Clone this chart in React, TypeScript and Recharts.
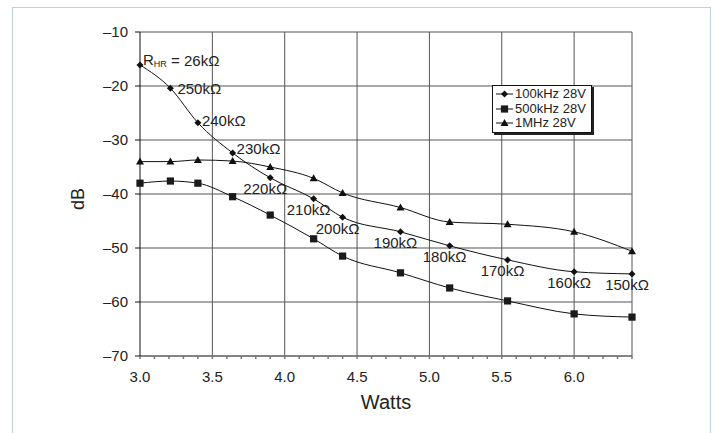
// WattsChart.tsx

import React from "react";
import {
  LineChart,
  Line,
  XAxis,
  YAxis,
  CartesianGrid,
  ReferenceLine,
  Legend,
  LabelList,
  Label,
} from "recharts";

const watts = [3.0, 3.21, 3.4, 3.64, 3.9, 4.2, 4.4, 4.8, 5.14, 5.54, 6.0, 6.4];
const db100k = [-16.1, -20.4, -26.8, -32.4, -37.0, -40.9, -44.3, -47.0, -49.6, -52.2, -54.4, -54.8];
const db500k = [-38.0, -37.6, -38.0, -40.5, -43.9, -48.3, -51.5, -54.6, -57.4, -59.8, -62.2, -62.8];
const db1M = [-34.0, -34.0, -33.7, -33.9, -35.0, -37.1, -39.8, -42.5, -45.2, -45.6, -47.0, -50.6];
const resistances = [
  "26kΩ", "250kΩ", "240kΩ", "230kΩ", "220kΩ", "210kΩ",
  "200kΩ", "190kΩ", "180kΩ", "170kΩ", "160kΩ", "150kΩ",
];
const seriesNames = ["100kHz 28V", "500kHz 28V", "1MHz 28V"];
const xTicks = [
  3.0, 3.1, 3.2, 3.3, 3.4, 3.5, 3.6, 3.7, 3.8, 3.9, 4.0, 4.1, 4.2, 4.3, 4.4, 4.5, 4.6,
  4.7, 4.8, 4.9, 5.0, 5.1, 5.2, 5.3, 5.4, 5.5, 5.6, 5.7, 5.8, 5.9, 6.0, 6.1, 6.2, 6.3, 6.4,
];
const xGrid = [3.5, 4.0, 4.5, 5.0, 5.5, 6.0, 6.4];
const yTicks = [-70, -60, -50, -40, -30, -20, -10];

const data = watts.map((w, i) => ({
  w,
  a: db100k[i],
  b: db500k[i],
  c: db1M[i],
  r: resistances[i],
}));

const FONT = "Arial, 'Liberation Sans', Helvetica, sans-serif";
const TXT = "#222";

const Diamond = (props: any) => {
  const { cx, cy } = props;
  if (cx == null || cy == null) return null;
  return <path d={`M${cx},${cy - 3.5}L${cx + 3.5},${cy}L${cx},${cy + 3.5}L${cx - 3.5},${cy}Z`} fill="#111" />;
};
const Square = (props: any) => {
  const { cx, cy } = props;
  if (cx == null || cy == null) return null;
  return <rect x={cx - 3.6} y={cy - 3.6} width={7.2} height={7.2} fill="#1a1a1a" />;
};
const Triangle = (props: any) => {
  const { cx, cy } = props;
  if (cx == null || cy == null) return null;
  return <path d={`M${cx},${cy - 4}L${cx + 4},${cy + 3}L${cx - 4},${cy + 3}Z`} fill="#111" />;
};

const ResLabel = (props: any) => {
  const { x, y, value, index } = props;
  if (index === 0) {
    return (
      <text x={x + 3} y={y - 5} dominantBaseline="central" fontSize={15} fill={TXT} fontFamily={FONT}>
        R<tspan fontSize={9} dy={4}>HR</tspan>
        <tspan dy={-4}> = {value}</tspan>
      </text>
    );
  }
  if (index <= 3) {
    const dx = index === 1 ? 7 : 4;
    const dy = index === 1 ? 0 : index === 2 ? -2 : -4;
    return (
      <text x={x + dx} y={y + dy} dominantBaseline="central" fontSize={15} fill={TXT} fontFamily={FONT}>
        {value}
      </text>
    );
  }
  return (
    <text x={x - 5} y={y + 11} textAnchor="middle" dominantBaseline="central" fontSize={15} fill={TXT} fontFamily={FONT}>
      {value}
    </text>
  );
};

const legendIcons = [Diamond, Square, Triangle];

const LegendBox = () => (
  <div
    style={{
      border: "1px solid #111",
      boxShadow: "2px 2px 0 #222",
      background: "#fff",
      padding: "1px 5px 1px 3px",
      fontFamily: FONT,
      fontSize: 13,
      color: TXT,
      lineHeight: "14.5px",
    }}
  >
    {seriesNames.map((name, i) => {
      const Icon = legendIcons[i];
      return (
        <div key={name} style={{ display: "flex", alignItems: "center", whiteSpace: "nowrap" }}>
          <svg width={17} height={12} style={{ marginRight: 2 }}>
            <line x1={0} y1={6} x2={17} y2={6} stroke="#111" strokeWidth={1} />
            <Icon cx={8.5} cy={6} />
          </svg>
          {name}
        </div>
      );
    })}
  </div>
);

export default function App() {
  return (
    <div style={{ position: "fixed", left: 0, top: 0, width: 714, height: 433, background: "#fff", overflow: "hidden" }}>
      <div
        style={{
          position: "absolute",
          left: 12,
          top: 7,
          width: 697,
          height: 440,
          borderLeft: "1.5px solid #b9d3d9",
          borderTop: "1.5px solid #b9d3d9",
          borderRight: "1.5px solid #b9d3d9",
        }}
      />
      <div style={{ position: "absolute", left: 0, top: 0 }}>
        <LineChart width={714} height={433} data={data} margin={{ top: 32, right: 82, bottom: 27, left: 80 }}>
          <CartesianGrid vertical={false} stroke="#555" strokeWidth={1} />
          {xGrid.map((v) => (
            <ReferenceLine key={v} x={v} stroke="#555" strokeWidth={1} />
          ))}
          <XAxis
            dataKey="w"
            type="number"
            domain={[3, 6.4]}
            ticks={xTicks}
            interval={0}
            height={50}
            tickSize={3}
            tickMargin={12}
            stroke="#777"
            strokeWidth={1.5}
            tickLine={{ stroke: "#777" }}
            tick={{ fill: TXT, fontSize: 15, fontFamily: FONT }}
            tickFormatter={(v: number) => (Math.round(v * 10) % 5 === 0 ? v.toFixed(1) : "")}
          >
            <Label value="Watts" position="insideBottom" offset={-3} fill={TXT} fontSize={20} fontFamily={FONT} />
          </XAxis>
          <YAxis
            type="number"
            domain={[-70, -10]}
            ticks={yTicks}
            interval={0}
            width={60}
            tickSize={5}
            tickMargin={7}
            stroke="#111"
            tick={{ fill: TXT, fontSize: 15, fontFamily: FONT }}
            tickFormatter={(v: number) => String(v).replace("-", "–")}
          >
            <Label
              content={(p: any) => {
                const vb = p.viewBox || {};
                const cx = 78;
                const cy = (vb.y ?? 32) + (vb.height ?? 324) / 2 + 5;
                return (
                  <text
                    x={cx}
                    y={cy}
                    textAnchor="middle"
                    dominantBaseline="central"
                    transform={`rotate(-90 ${cx} ${cy})`}
                    fontSize={18}
                    fill={TXT}
                    fontFamily={FONT}
                  >
                    dB
                  </text>
                );
              }}
            />
          </YAxis>
          <Legend
            layout="horizontal"
            verticalAlign="middle"
            align="center"
            content={<LegendBox />}
            wrapperStyle={{ position: "absolute", left: 492, top: 85, width: "auto", height: "auto" }}
          />
          <Line
            dataKey="a"
            name={seriesNames[0]}
            type="monotone"
            stroke="#111"
            strokeWidth={1}
            dot={<Diamond />}
            activeDot={false}
            isAnimationActive={false}
          >
            <LabelList dataKey="r" content={<ResLabel />} />
          </Line>
          <Line
            dataKey="b"
            name={seriesNames[1]}
            type="monotone"
            stroke="#111"
            strokeWidth={1}
            dot={<Square />}
            activeDot={false}
            isAnimationActive={false}
          />
          <Line
            dataKey="c"
            name={seriesNames[2]}
            type="monotone"
            stroke="#111"
            strokeWidth={1}
            dot={<Triangle />}
            activeDot={false}
            isAnimationActive={false}
          />
        </LineChart>
      </div>
    </div>
  );
}
